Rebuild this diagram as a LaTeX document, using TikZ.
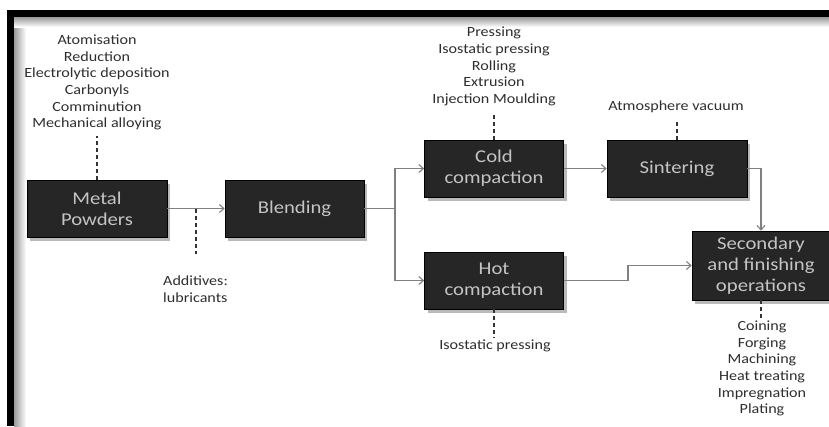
\documentclass[tikz,border=0pt]{standalone}
\usepackage{fontspec}
\newfontfamily\carl{Carlito}[FakeStretch=1.15]
\usetikzlibrary{arrows.meta,shadows}
\newcommand{\boxw}{139pt}
\newcommand{\boxh}{57pt}
\definecolor{boxfill}{HTML}{262626}
\definecolor{boxtext}{HTML}{C4C4C4}
\definecolor{notetext}{HTML}{2E2E2E}
\definecolor{flowline}{HTML}{808080}

\begin{document}
\begin{tikzpicture}[x=1pt,y=-1pt]
            \tikzset{stepbox/.style = {fill=boxfill, draw=black, line width=0.6pt, minimum width=\boxw, minimum height=\boxh,
                        inner sep=0pt, align=center, text=boxtext, font=\carl\fontsize{18}{21}\selectfont,
                        drop shadow={shadow xshift=3pt, shadow yshift=-4pt, opacity=0.45, fill=black!60}}}
            \tikzset{note/.style = {inner sep=0pt, align=center, text=notetext, font=\carl\fontsize{14}{16.6}\selectfont}}
            \tikzset{flow/.style = {draw=flowline, line width=1.1pt, -{Straight Barb[length=4.5pt,width=8pt]}}}
            \tikzset{link/.style = {draw=black!80, line width=2pt, dash pattern=on 4pt off 3pt}}
            \useasboundingbox (0,0) rectangle (829,426);
            %\draw[help lines, step=50] (0,0) grid (829,426);
            % frame
            \shade[left color=black!40, right color=white] (14,17) rectangle (26,426);
            \shade[top color=black!40, bottom color=white] (14,17) rectangle (829,27);
            \draw[line width=7pt] (10.5,426) -- (10.5,13.5) -- (829,13.5);
            % steps
            \node[stepbox, minimum width=140pt] (metal) at (97,208.5) {Metal\\Powders};
            \node[stepbox] (blend) at (294.5,208.5) {Blending};
            \node[stepbox] (cold) at (494,168.5) {Cold\\compaction};
            \node[stepbox, minimum width=140pt] (sinter) at (677,168.5) {Sintering};
            \node[stepbox] (hot) at (494,280.5) {Hot\\compaction};
            \node[stepbox, minimum width=138pt, minimum height=69pt] (second) at (761,265.5) {Secondary\\and finishing\\operations};
            % notes
            \node[note] (powdernote) at (97,82.5) {Atomisation\\Reduction\\Electrolytic deposition\\Carbonyls\\Comminution\\Mechanical alloying};
            \node[note] (coldnote) at (494,66.5) {Pressing\\Isostatic pressing\\Rolling\\Extrusion\\Injection Moulding};
            \node[note] (sinternote) at (676,107) {Atmosphere vacuum};
            \node[note] (hotnote) at (495,346) {Isostatic pressing};
            \node[note] (secondnote) at (762,368.5) {Coining\\Forging\\Machining\\Heat treating\\Impregnation\\Plating};
            \node[note, align=left, anchor=west] (addnote) at (163,289) {Additives:\\lubricants};
            % flow
            \coordinate (addpt) at (196,208.5);
            \coordinate (split) at (395,208.5);
            \coordinate (hotbend) at (628,280.5);
            \draw[flow] (metal.east) -- (blend.west);
            \draw[flowline, line width=1.1pt] (blend.east) -- (split);
            \foreach \s in {cold,hot} {
                \draw[flow] (split) |- (\s.west);
            }
            \draw[flow] (cold.east) -- (sinter.west);
            \draw[flow] (sinter.east) -| (second.north);
            \draw[flow] (hot.east) -- (hotbend) |- (second.west);
            % dashed links
            \draw[link, shorten >=6pt] (metal.north) -- (metal.north |- powdernote.south);
            \draw[link, shorten >=8pt] (cold.north) -- (cold.north |- coldnote.south);
            \draw[link, shorten >=8pt] (sinter.north) -- (sinter.north |- sinternote.south);
            \draw[link, shorten >=2pt] (hot.south) -- (hot.south |- hotnote.north);
            \draw[link] (second.south) -- (second.south |- secondnote.north);
            \draw[link, shorten >=22pt] (addpt) -- (addpt |- addnote.north);
\end{tikzpicture}
\end{document}
